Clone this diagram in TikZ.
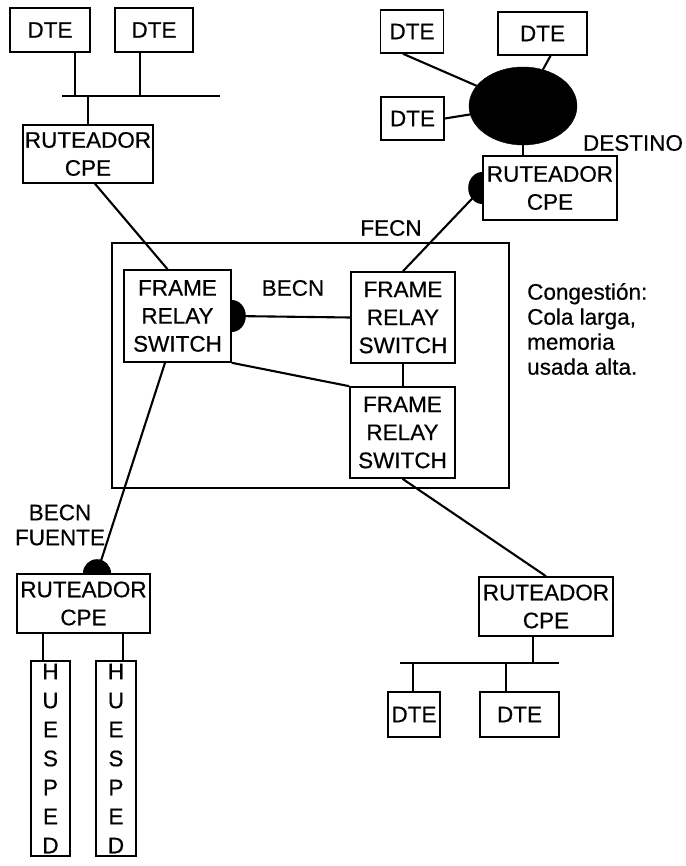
\documentclass[tikz,border=0pt]{standalone}
\usepackage{fontspec}
\setmainfont[FakeBold=0.5]{Liberation Sans}
\usetikzlibrary{shapes.geometric,calc}
\begin{document}
\begin{tikzpicture}[x=1pt,y=-1pt,
  box/.style={draw,line width=1.6pt,rectangle,inner sep=0pt,align=center,
    font=\fontsize{22.5}{28}\selectfont},
  lbl/.style={inner sep=0pt,align=center,font=\fontsize{22.5}{25}\selectfont},
  conn/.style={line width=2.1pt},
  tipfill/.style={fill=black}]
\useasboundingbox (0,0) rectangle (685,866);
% top-left group
\node[box,minimum width=80,minimum height=44] (dte1) at (50,30) {DTE};
\node[box,minimum width=78,minimum height=44] (dte2) at (154,30) {DTE};
\coordinate (bus1L) at (62,96);
\coordinate (bus1R) at (220,96);
\draw[conn] (bus1L) -- (bus1R);
\draw[conn] ([xshift=25pt]dte1.south) -- ([xshift=25pt]dte1.south |- bus1L);
\draw[conn] ([xshift=-14pt]dte2.south) -- ([xshift=-14pt]dte2.south |- bus1L);
\node[box,minimum width=130,minimum height=58] (r1) at (88,154) {RUTEADOR\\CPE};
\draw[conn] (r1.north) -- (r1.north |- bus1L);
% top-right group
\node[box,minimum width=63,minimum height=43] (dA) at (412,31.5) {DTE};
\node[box,minimum width=89,minimum height=43] (dB) at (542.5,33.5) {DTE};
\node[box,minimum width=63,minimum height=43] (dC) at (412.5,118.5) {DTE};
\node[ellipse,fill=black,draw,minimum width=108,minimum height=78,inner sep=0pt] (cl) at (523,106) {};
\draw[conn] ([xshift=-9pt]dA.south) -- (cl);
\draw[conn] ([xshift=8pt]dB.south) -- (cl);
\draw[conn] (dC.east) -- (cl);
\node[box,minimum width=134,minimum height=64] (rd) at (550,188) {RUTEADOR\\CPE};
\draw[conn] (cl.south) -- (cl.south |- rd.north);
\node[lbl] (dest) at (633,143) {DESTINO};
% frame relay network
\node[draw,line width=1.6pt,rectangle,inner sep=0pt,minimum width=397,minimum height=245] (net) at (310.5,365.5) {};
\node[box,minimum width=107,minimum height=92] (fr1) at (177.5,316) {FRAME\\RELAY\\SWITCH};
\node[box,minimum width=104,minimum height=91] (fr2) at (403,317.5) {FRAME\\RELAY\\SWITCH};
\node[box,minimum width=105,minimum height=91] (fr3) at (402.5,432.5) {FRAME\\RELAY\\SWITCH};
\draw[conn] (fr2.west) -- (fr1.east);
\fill[tipfill] (fr1.east) ++(0,16) arc[start angle=90,end angle=-90,x radius=14,y radius=16] -- cycle;
\node[lbl] (becn) at (293,288) {BECN};
\draw[conn] (fr1.south east) -- (fr3.north west);
\draw[conn] (fr2.south) -- (fr2.south |- fr3.north);
\draw[conn] ([xshift=7pt]r1.south) -- ([xshift=-10pt]fr1.north);
\draw[conn] (fr2.north) -- (rd.west);
\fill[tipfill] (rd.west) ++(0,16) arc[start angle=90,end angle=270,x radius=14,y radius=16] -- cycle;
\node[lbl] (fecn) at (391,228) {FECN};
\node[lbl,align=left,anchor=west] (cong) at (527,329) {Congestión:\\Cola larga,\\memoria\\usada alta.};
% bottom-left group
\node[box,minimum width=133,minimum height=59] (r3) at (83.5,603.5) {RUTEADOR\\CPE};
\draw[conn] ([xshift=-12.5pt]fr1.south) -- ([xshift=13.5pt]r3.north);
\fill[tipfill] ([xshift=13.5pt]r3.north) ++(-14,0) arc[start angle=180,end angle=360,x radius=14,y radius=14] -- cycle;
\node[lbl] (becnf) at (60,525) {BECN\\FUENTE};
\node[box,minimum width=39,minimum height=195,font=\fontsize{22.5}{29}\selectfont] (h1) at (50.5,758.5) {H\\U\\E\\S\\P\\E\\D};
\node[box,minimum width=40,minimum height=195,font=\fontsize{22.5}{29}\selectfont] (h2) at (116,758.5) {H\\U\\E\\S\\P\\E\\D};
\draw[conn] ([xshift=-40.5pt]r3.south) -- ([xshift=-40.5pt]r3.south |- h1.north);
\draw[conn] ([xshift=39.5pt]r3.south) -- ([xshift=39.5pt]r3.south |- h2.north);
% bottom-right group
\node[box,minimum width=134,minimum height=59] (r4) at (546,606.5) {RUTEADOR\\CPE};
\draw[conn] (fr3.south) -- (r4.north);
\coordinate (bus2L) at (400,663);
\coordinate (bus2R) at (559,663);
\draw[conn] (bus2L) -- (bus2R);
\draw[conn] ([xshift=-13pt]r4.south) -- ([xshift=-13pt]r4.south |- bus2L);
\node[box,minimum width=52,minimum height=45] (dL) at (414,714.5) {DTE};
\node[box,minimum width=79,minimum height=45] (dR) at (519.5,714.5) {DTE};
\draw[conn] ([xshift=-1pt]dL.north) -- ([xshift=-1pt]dL.north |- bus2L);
\draw[conn] ([xshift=-13.5pt]dR.north) -- ([xshift=-13.5pt]dR.north |- bus2L);
\end{tikzpicture}
\end{document}
